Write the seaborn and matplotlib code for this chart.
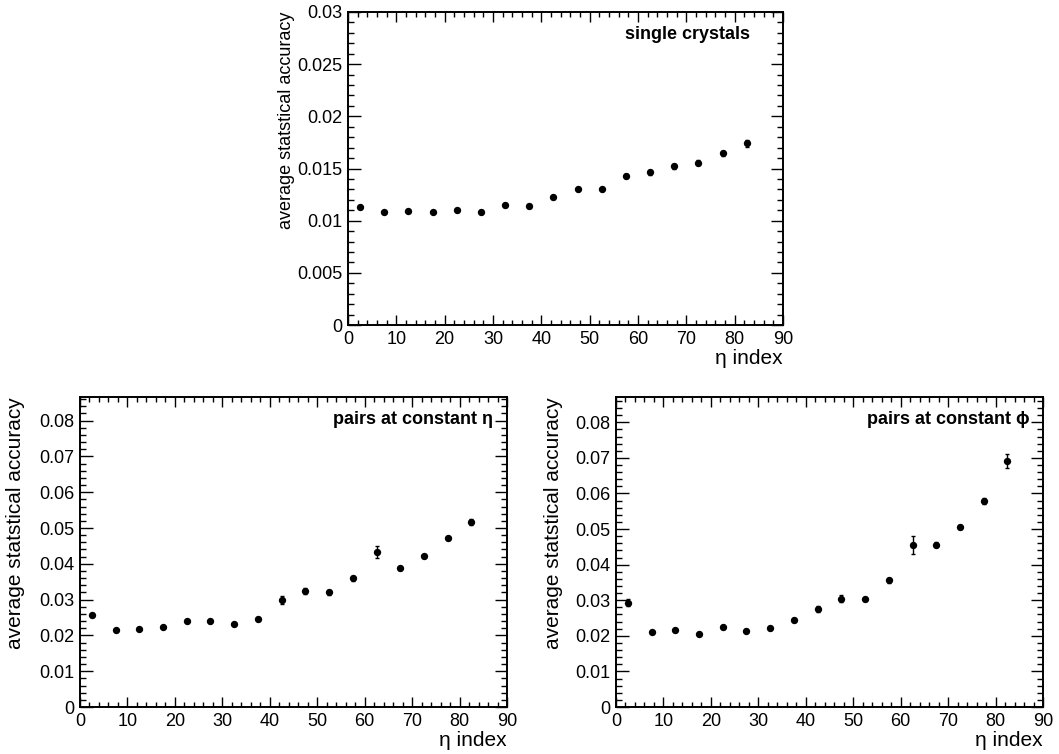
import numpy as np
import pandas as pd
import matplotlib
matplotlib.use("Agg")
import matplotlib.pyplot as plt
from matplotlib.ticker import MultipleLocator, FuncFormatter
import seaborn as sns

# eta-index bin centres shared by all three panels
eta_bins = [2.5, 7.5, 12.5, 17.5, 22.5, 27.5, 32.5, 37.5, 42.5,
            47.5, 52.5, 57.5, 62.5, 67.5, 72.5, 77.5, 82.5]

# single crystals
single_acc = [0.01127, 0.01083, 0.01089, 0.01080, 0.01099, 0.01083, 0.01150,
              0.01137, 0.01223, 0.01306, 0.01299, 0.01430, 0.01462, 0.01522,
              0.01557, 0.01646, 0.01742]
single_err = [0.00010, 0.00008, 0.00008, 0.00008, 0.00012, 0.00015, 0.00018,
              0.00018, 0.00018, 0.00018, 0.00018, 0.00020, 0.00020, 0.00025,
              0.00020, 0.00022, 0.00032]

# pairs at constant eta
eta_pair_acc = [0.02578, 0.02158, 0.02186, 0.02233, 0.02391, 0.02410, 0.02317,
                0.02466, 0.02988, 0.03242, 0.03205, 0.03596, 0.04326, 0.03879,
                0.04205, 0.04718, 0.05158]
eta_pair_err = [0.0006, 0.0003, 0.0003, 0.0003, 0.0005, 0.0006, 0.0004,
                0.0006, 0.0011, 0.0008, 0.0007, 0.0007, 0.0017, 0.0004,
                0.0004, 0.0004, 0.0008]

# pairs at constant phi
phi_pair_acc = [0.02934, 0.02103, 0.02160, 0.02056, 0.02235, 0.02141, 0.02207,
                0.02451, 0.02746, 0.03047, 0.03028, 0.03555, 0.04555, 0.04564,
                0.05056, 0.05793, 0.06906]
phi_pair_err = [0.0009, 0.0003, 0.0004, 0.0005, 0.0004, 0.0004, 0.0004,
                0.0006, 0.0008, 0.0009, 0.0006, 0.0006, 0.0025, 0.0008,
                0.0005, 0.0008, 0.0020]

panel_titles = ["single crystals", "pairs at constant η", "pairs at constant ϕ"]
y_title = "average statstical accuracy"
x_title = "η index"

sns.set_theme(style="ticks")
plt.rcParams["font.family"] = ["Liberation Sans", "DejaVu Sans"]
plt.rcParams["axes.linewidth"] = 1.4
plt.rcParams["text.color"] = "black"
plt.rcParams["axes.labelcolor"] = "black"

fig = plt.figure(figsize=(10.59, 7.54), dpi=100)
W, H = 1059.0, 754.0


def box(l, t, r, b):
    return [l / W, 1 - b / H, (r - l) / W, (b - t) / H]


ax_top = fig.add_axes(box(348, 12, 783, 325))
ax_bl = fig.add_axes(box(80, 397, 507, 707))
ax_br = fig.add_axes(box(616, 397, 1043, 707))

# axes, values, errors, title, y max, major step, minor step,
# title x, ylabel x, ylabel size
panels = [
    (ax_top, single_acc, single_err, panel_titles[0], 0.030, 0.005, 0.001, 0.925, -0.122, 13),
    (ax_bl, eta_pair_acc, eta_pair_err, panel_titles[1], 0.0866, 0.01, 0.002, 0.968, -0.129, 15),
    (ax_br, phi_pair_acc, phi_pair_err, panel_titles[2], 0.0871, 0.01, 0.002, 0.968, -0.124, 15),
]

fmt = FuncFormatter(lambda v, p: f"{v:g}")

for ax, acc, err, title, ymax, ymaj, ymin, tx, ylx, ysz in panels:
    df = pd.DataFrame({"eta": eta_bins, "acc": acc, "err": err})
    ax.errorbar(df["eta"], df["acc"], yerr=df["err"], fmt="none",
                ecolor="black", elinewidth=1.0, capsize=1.5, capthick=1.0,
                zorder=2)
    sns.scatterplot(data=df, x="eta", y="acc", ax=ax, color="black",
                    s=28, linewidth=0, zorder=3)
    ax.set_xlim(0, 90)
    ax.set_ylim(0, ymax)
    ax.xaxis.set_major_locator(MultipleLocator(10))
    ax.xaxis.set_minor_locator(MultipleLocator(2))
    ax.yaxis.set_major_locator(MultipleLocator(ymaj))
    ax.yaxis.set_minor_locator(MultipleLocator(ymin))
    ax.xaxis.set_major_formatter(fmt)
    ax.yaxis.set_major_formatter(fmt)
    ax.tick_params(axis="both", which="both", direction="in",
                   top=True, right=True, colors="black", labelsize=13,
                   width=1.0)
    ax.tick_params(axis="x", which="major", length=7, pad=4)
    ax.tick_params(axis="x", which="minor", length=3.5)
    ax.tick_params(axis="y", which="major", length=9, pad=4)
    ax.tick_params(axis="y", which="minor", length=4.5)
    for sp in ax.spines.values():
        sp.set_color("black")
    ax.set_xlabel(x_title, fontsize=15, loc="right", labelpad=1)
    ax.set_ylabel(y_title, fontsize=ysz, loc="top")
    ax.yaxis.set_label_coords(ylx, 1.0)
    ax.text(tx, 0.955, title, transform=ax.transAxes, ha="right", va="top",
            fontsize=13, fontweight="bold", color="black")

fig.savefig("out.png", dpi=100, facecolor="white")
